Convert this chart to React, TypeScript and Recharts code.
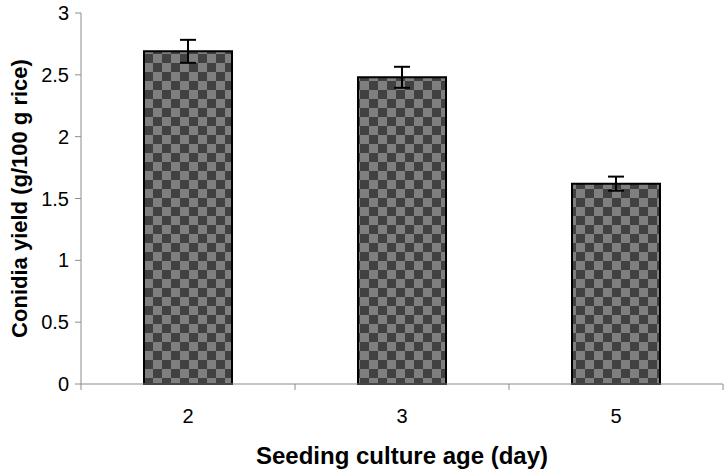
import React from "react";
import { BarChart, Bar, XAxis, YAxis, ErrorBar } from "recharts";

const ages = ["2", "3", "5"];
const yields = [2.69, 2.48, 1.62];
const errors = [0.093, 0.085, 0.057];
const yTicks = [0, 0.5, 1, 1.5, 2, 2.5, 3];

const data = ages.map((age, i) => ({ age, value: yields[i], err: errors[i] }));

const FONT = "'Liberation Sans', Arial, sans-serif";
const AXIS = "#8c8c8c";

// category labels in the middle, tick marks on the band edges
function AgeTick(props: any) {
    const { x, y, payload, index } = props;
    const axisY = y - 25;
    const half = payload.offset || 0;
    return (
        <g>
            {index === 0 && (
                <line x1={x - half} y1={axisY} x2={x - half} y2={axisY + 6} stroke={AXIS} />
            )}
            <line x1={x + half} y1={axisY} x2={x + half} y2={axisY + 6} stroke={AXIS} />
            <text x={x} y={y} dy="0.71em" textAnchor="middle" fontSize={20} fill="#000" fontFamily={FONT}>
                {payload.value}
            </text>
        </g>
    );
}

export default function App() {
    return (
        <div style={{ position: "absolute", left: 0, top: 0, background: "#fff" }}>
            <BarChart width={728} height={469} data={data} margin={{ top: 13, right: 5, left: 0, bottom: 0 }}>
                <defs>
                    <pattern id="checker" width={18} height={18} patternUnits="userSpaceOnUse">
                        <rect width={18} height={18} fill="#7f7f7f" />
                        <rect width={9} height={9} fill="#414141" />
                        <rect x={9} y={9} width={9} height={9} fill="#414141" />
                    </pattern>
                </defs>
                <XAxis
                    dataKey="age"
                    height={85}
                    tickLine={false}
                    tickSize={6}
                    tickMargin={19}
                    stroke={AXIS}
                    tick={<AgeTick />}
                    interval={0}
                    label={{
                        value: "Seeding culture age (day)",
                        position: "insideBottom",
                        offset: 5,
                        fontSize: 24,
                        fontWeight: "bold",
                        fill: "#000",
                        fontFamily: FONT,
                    }}
                />
                <YAxis
                    width={81}
                    domain={[0, 3]}
                    ticks={yTicks}
                    interval={0}
                    stroke={AXIS}
                    tickSize={6}
                    tickMargin={6}
                    tick={{ fontSize: 20, fill: "#000", fontFamily: FONT }}
                    label={{
                        value: "Conidia yield (g/100 g rice)",
                        angle: -90,
                        position: "center",
                        dx: -21,
                        fontSize: 22,
                        fontWeight: "bold",
                        fill: "#000",
                        fontFamily: FONT,
                    }}
                />
                <Bar dataKey="value" barSize={88} fill="url(#checker)" stroke="#000" strokeWidth={2} isAnimationActive={false}>
                    <ErrorBar dataKey="err" width={8} stroke="#000" strokeWidth={2} isAnimationActive={false} />
                </Bar>
            </BarChart>
        </div>
    );
}
